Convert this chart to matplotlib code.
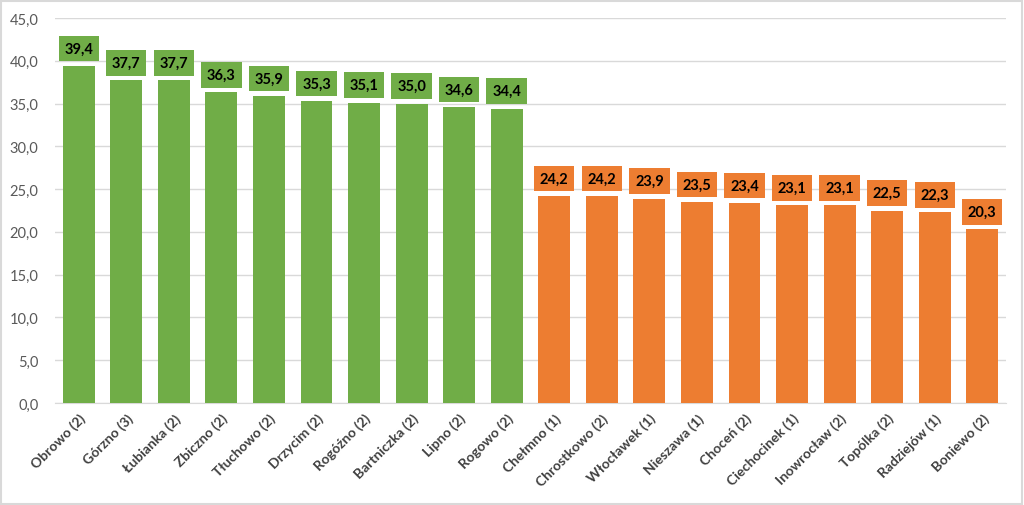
import matplotlib
matplotlib.use("Agg")
import matplotlib.pyplot as plt
from matplotlib.patches import Rectangle

categories = ["Obrowo (2)", "Górzno (3)", "Łubianka (2)", "Zbiczno (2)", "Tłuchowo (2)",
              "Drzycim (2)", "Rogóźno (2)", "Bartniczka (2)", "Lipno (2)", "Rogowo (2)",
              "Chełmno (1)", "Chrostkowo (2)", "Włocławek (1)", "Nieszawa (1)", "Choceń (2)",
              "Ciechocinek (1)", "Inowrocław (2)", "Topólka (2)", "Radziejów (1)", "Boniewo (2)"]
values = [39.4, 37.7, 37.7, 36.3, 35.9, 35.3, 35.1, 35.0, 34.6, 34.4,
          24.2, 24.2, 23.9, 23.5, 23.4, 23.1, 23.1, 22.5, 22.3, 20.3]
groups = ["top"] * 10 + ["bottom"] * 10
yticks = [0, 5, 10, 15, 20, 25, 30, 35, 40, 45]

GREEN = "#70AD47"
ORANGE = "#ED7D31"
colors = [GREEN if g == "top" else ORANGE for g in groups]

plt.rcParams['font.family'] = ['Lato', 'DejaVu Sans']

fig = plt.figure(figsize=(10.24, 5.06), dpi=100)
ax = fig.add_axes([55/1024, 1 - 404/506, (1006-55)/1024, (404-19)/506])

x = list(range(len(categories)))
ax.bar(x, values, width=0.67, color=colors, zorder=3)
ax.set_xlim(-0.5, len(categories) - 0.5)
ax.set_ylim(0, 45)
ax.set_yticks(yticks)
ax.set_yticklabels([f"{v:.1f}".replace(".", ",") for v in yticks], color="#595959", fontsize=10.5)
ax.set_xticks(x)
ax.set_xticklabels(categories, rotation=45, ha="right", rotation_mode="anchor",
                   fontsize=10, fontweight="bold", color="#404040")
ax.tick_params(axis="both", length=0, pad=6)
ax.tick_params(axis="y", pad=12)
ax.grid(axis="y", color="#D9D9D9", linewidth=1, zorder=0)
for s in ["top", "right", "left"]:
    ax.spines[s].set_visible(False)
ax.spines["bottom"].set_color("#D9D9D9")

for xi, v, c in zip(x, values, colors):
    ax.annotate(f"{v:.1f}".replace(".", ","), (xi, v), xytext=(0, 7.5), textcoords="offset points",
                ha="center", va="bottom", fontsize=10.5, fontweight="bold", color="black",
                bbox=dict(boxstyle="square,pad=0.4", fc=c, ec="none"), zorder=4)

fig.patches.append(Rectangle((0.001, 0.001), 0.997, 0.996, transform=fig.transFigure,
                             fill=False, ec="#D9D9D9", lw=1.5))
fig.savefig("out.png", dpi=100)
